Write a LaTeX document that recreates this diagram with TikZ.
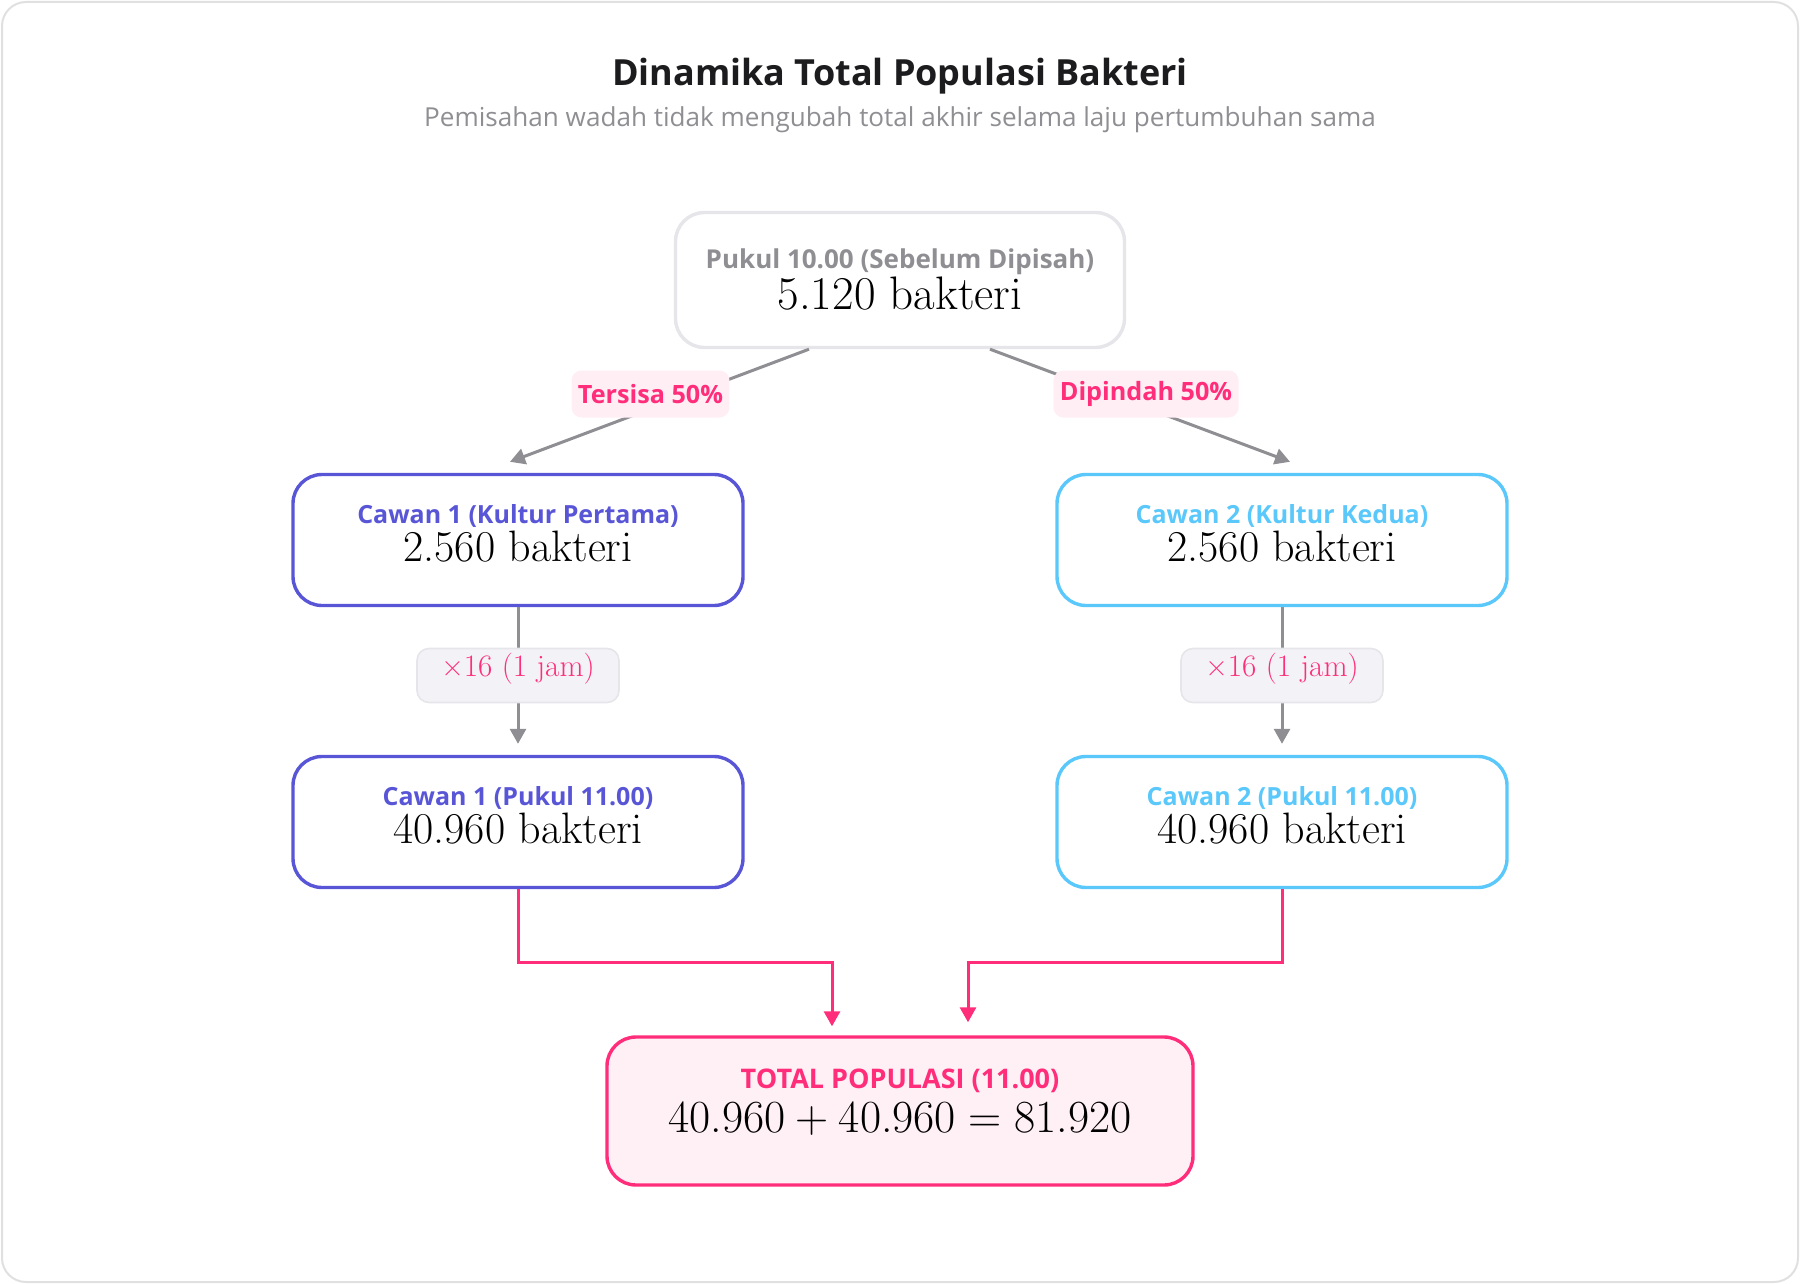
\documentclass[tikz,border=0pt]{standalone}
\usepackage{fontspec}
\newfontfamily\uifont{Open Sans}
\newcommand\cardfont{\uifont\bfseries\fontsize{12.5}{14}\selectfont}
\usetikzlibrary{arrows.meta,calc}

\definecolor{inkgray}{HTML}{8E8E93}
\definecolor{linegray}{HTML}{E5E5EA}
\definecolor{plateone}{HTML}{5856D6}
\definecolor{platetwo}{HTML}{5AC8FA}
\definecolor{hotpink}{HTML}{FF2D7A}
\definecolor{pinkfill}{HTML}{FFF0F5}
\definecolor{tagfill}{HTML}{F2F2F7}
\definecolor{headink}{HTML}{1C1C1E}

\begin{document}
\begin{tikzpicture}[
    x=0.5pt,
    y=-0.5pt,
    every node/.style={inner sep=0pt},
    card/.style={draw=#1, rounded corners=14.5pt, line width=1.7pt, fill=white,
      minimum width=225pt, minimum height=65.5pt, align=center, text depth=7pt,
      font=\fontsize{22}{19}\selectfont},
    tag/.style={fill=hotpink!8, rounded corners=5pt, text=hotpink, inner xsep=3.2pt,
      minimum height=23.5pt, font=\uifont\bfseries\fontsize{12.6}{14}\selectfont},
    steptag/.style={fill=tagfill, draw=linegray, line width=0.8pt, rounded corners=6pt,
      text=hotpink, minimum width=101pt, minimum height=27pt, text depth=11pt,
      font=\fontsize{15.6}{18}\selectfont},
    flow/.style={draw=inkgray, line width=1.5pt, -{Triangle[length=7.5pt,width=8pt]}},
    merge/.style={draw=hotpink, line width=1.5pt, -{Triangle[length=7.5pt,width=8pt]}}
  ]
    \useasboundingbox (0,0) rectangle (1800,1284);
    \draw[draw=black!12, line width=1pt, rounded corners=12pt] (2,2) rectangle (1798,1282);

    % heading
    \node[text=headink, font=\uifont\bfseries\fontsize{18}{21}\selectfont] (title) at (900,76)
      {Dinamika Total Populasi Bakteri};
    \node[text=inkgray, font=\uifont\fontsize{13.05}{15}\selectfont] (subtitle) at (900,120)
      {Pemisahan wadah tidak mengubah total akhir selama laju pertumbuhan sama};

    % boxes
    \node[card=linegray, minimum width=224.5pt, minimum height=67.5pt, text depth=1pt,
      font=\fontsize{23.5}{19}\selectfont] (top) at (900,280)
      {{\cardfont\fontsize{13}{15}\selectfont\color{inkgray}Pukul 10.00 (Sebelum Dipisah)}\\5.120 bakteri};
    \node[card=plateone] (cawanA) at (518,540)
      {{\cardfont\color{plateone}Cawan 1 (Kultur Pertama)}\\2.560 bakteri};
    \node[card=platetwo] (cawanB) at (1282,540)
      {{\cardfont\color{platetwo}Cawan 2 (Kultur Kedua)}\\2.560 bakteri};
    \node[card=plateone] (cawanAend) at (518,822)
      {{\cardfont\color{plateone}Cawan 1 (Pukul 11.00)}\\40.960 bakteri};
    \node[card=platetwo] (cawanBend) at (1282,822)
      {{\cardfont\color{platetwo}Cawan 2 (Pukul 11.00)}\\40.960 bakteri};
    \node[card=hotpink, fill=pinkfill, minimum width=293pt, minimum height=74pt, text depth=10pt,
      font=\fontsize{23}{22}\selectfont] (total) at (900,1111)
      {{\cardfont\fontsize{13.5}{15}\selectfont\color{hotpink}TOTAL POPULASI (11.00)}\\
       40.960\hspace{0.222em}+\hspace{0.222em}40.960\hspace{0.278em}=\hspace{0.278em}81.920};

    % splitting
    \draw[flow] ($(top.south)+(-91,0)$) -- node[tag, xshift=-4.5pt, yshift=5.75pt] (keep) {Tersisa 50\%}
      ($(cawanA.north)+(-8,-11)$);
    \draw[flow] ($(top.south)+(90,0)$) -- node[tag, xshift=3pt, yshift=5.75pt] (moved) {Dipindah 50\%}
      ($(cawanB.north)+(8,-11)$);

    % growth
    \draw[flow] (cawanA.south) -- node[steptag] (growA) {×16 (1 jam)} ($(cawanAend.north)+(0,-11)$);
    \draw[flow] (cawanB.south) -- node[steptag] (growB) {×16 (1 jam)} ($(cawanBend.north)+(0,-11)$);

    % sum
    \draw[merge] (cawanAend.south) -- ++(0,73) -| ($(total.north)+(-68,-9)$);
    \draw[merge] (cawanBend.south) -- ++(0,73) -| ($(total.north)+(68,-13)$);
  \end{tikzpicture}
\end{document}
